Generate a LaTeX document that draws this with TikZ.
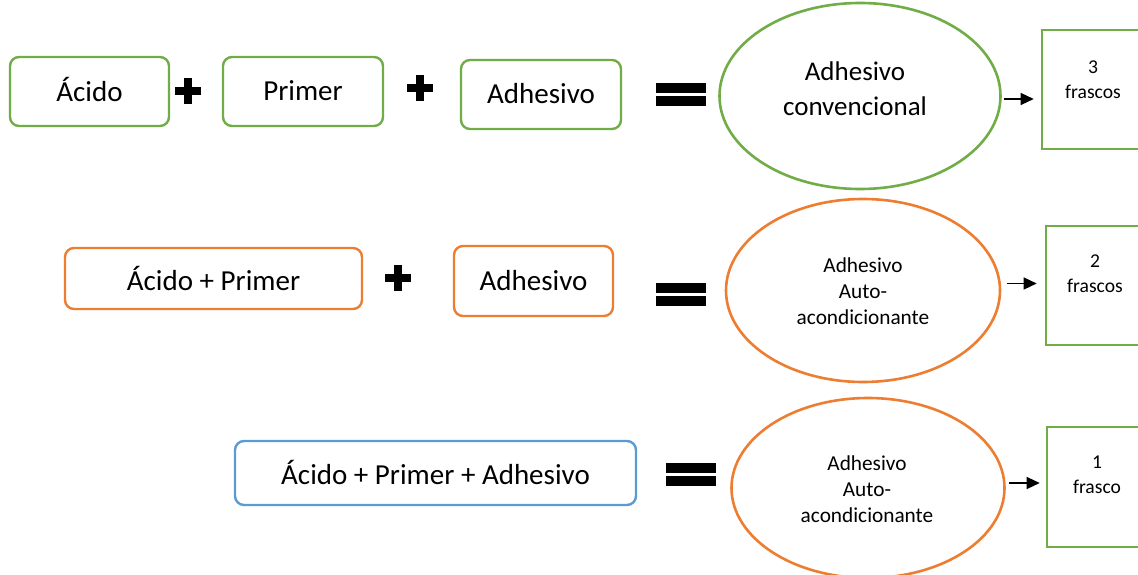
\documentclass[tikz,border=0pt]{standalone}
\usepackage{fontspec}
\setmainfont{Carlito}
\usetikzlibrary{shapes.geometric,arrows.meta,calc}

\definecolor{leaf}{HTML}{70AD47}
\definecolor{tangerine}{HTML}{ED7D31}
\definecolor{sky}{HTML}{5B9BD5}

\tikzset{
  x=1pt, y=-1pt,
  stepbox/.style={draw, line width=2.4pt, rounded corners=9pt, inner sep=0pt,
    font=\fontsize{29}{34}\selectfont},
  resultoval/.style={draw, ellipse, line width=2.6pt, inner sep=0pt},
  ovaltext/.style={align=center, inner sep=0pt},
  countbox/.style={draw=leaf, line width=2.6pt, inner sep=0pt},
  counttext/.style={align=center, inner sep=0pt, font=\fontsize{19.6}{25}\selectfont},
  arr/.style={line width=1.3pt, -{Triangle[length=13pt,width=12pt]}},
  plussign/.pic={
    \fill (-4,-13) rectangle (4,13);
    \fill (-13,-4) rectangle (13,4);
  },
  equalsign/.pic={
    \fill (-25,-11.5) rectangle (25,-1.5);
    \fill (-25,1.5) rectangle (25,11.5);
  },
}

\begin{document}
\begin{tikzpicture}
\useasboundingbox (0,0) rectangle (1138,575);

% ---- conventional adhesive: three separate steps
\node[stepbox, draw=leaf, minimum width=159pt, minimum height=69pt] (acid1) at (89.5,91.5) {\raisebox{4pt}{Ácido}};
\pic at (188,91.5) {plussign};
\node[stepbox, draw=leaf, minimum width=160pt, minimum height=69pt] (primer1) at (303,91.5) {\raisebox{1pt}{Primer}};
\pic at (420,88.5) {plussign};
\node[stepbox, draw=leaf, minimum width=160pt, minimum height=69pt] (adh1) at (541,94.5) {\raisebox{2pt}{Adhesivo}};
\pic at (680.5,95) {equalsign};
\node[resultoval, draw=leaf, minimum width=281pt, minimum height=186pt] (oval1) at (860,96) {};
\node[ovaltext, font=\fontsize{27}{35}\selectfont] (ot1) at (855,89) {Adhesivo\\convencional};
\node[countbox, minimum width=102pt, minimum height=119pt] (count1) at (1093,89.5) {};
\node[counttext] (ct1) at (1093,80) {3\\frascos};
\draw[arr] ($(oval1.east)+(2,3)$) -- ($(count1.west |- oval1.east)+(-7,3)$);

% ---- self-etch adhesive, two bottles
\node[stepbox, draw=tangerine, minimum width=297pt, minimum height=61pt] (acid2) at (213.5,278.5) {\raisebox{-1pt}{Ácido + Primer}};
\pic at (397.5,277.5) {plussign};
\node[stepbox, draw=tangerine, minimum width=159pt, minimum height=70pt] (adh2) at (533.5,281) {\raisebox{1pt}{Adhesivo}};
\pic at (680.5,294) {equalsign};
\node[resultoval, draw=tangerine, minimum width=274pt, minimum height=183pt] (oval2) at (863,290.5) {};
\node[ovaltext, font=\fontsize{21.3}{26}\selectfont] (ot2) at (863,291) {Adhesivo\\Auto-\\acondicionante};
\node[countbox, minimum width=98pt, minimum height=119pt] (count2) at (1095,285.5) {};
\node[counttext] (ct2) at (1095,274) {2\\frascos};
\draw[arr] ($(oval2.east)+(6,-7)$) -- ($(count2.west |- oval2.east)+(-8,-7)$);

% ---- self-etch adhesive, one bottle
\node[stepbox, draw=sky, minimum width=401pt, minimum height=64pt] (all3) at (435.5,473) {\raisebox{2pt}{Ácido + Primer + Adhesivo}};
\pic at (691,474) {equalsign};
\node[resultoval, draw=tangerine, minimum width=273pt, minimum height=180pt] (oval3) at (868,488) {};
\node[ovaltext, font=\fontsize{21.3}{26}\selectfont] (ot3) at (867,489) {Adhesivo\\Auto-\\acondicionante};
\node[countbox, minimum width=98pt, minimum height=120pt] (count3) at (1096,487) {};
\node[counttext] (ct3) at (1097,475) {1\\frasco};
\draw[arr] ($(oval3.east)+(3,-5)$) -- ($(count3.west |- oval3.east)+(-6,-5)$);
\end{tikzpicture}
\end{document}
